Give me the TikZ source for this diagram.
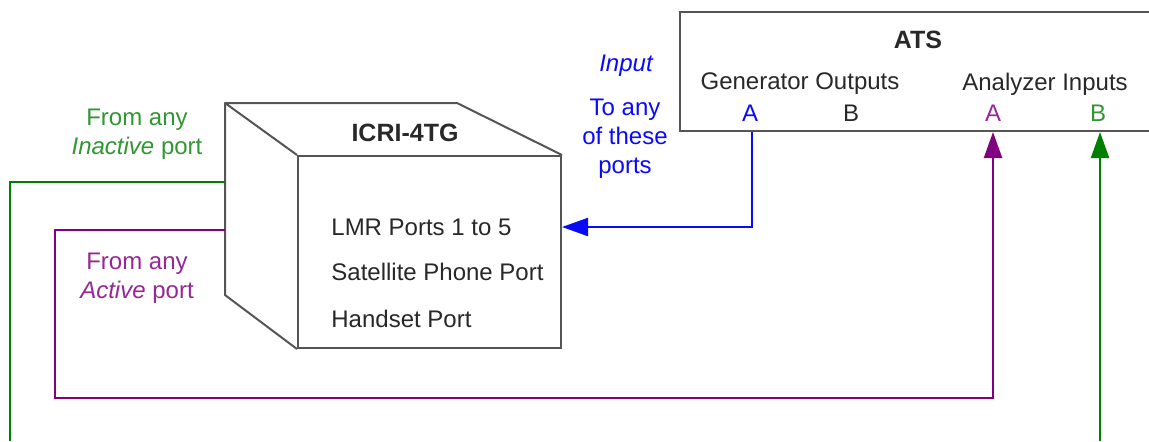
\documentclass[tikz,border=0pt]{standalone}
\usepackage{fontspec}
\setmainfont{Liberation Sans}
\usetikzlibrary{arrows.meta,positioning}
\definecolor{boxgrey}{RGB}{85,85,85}
\definecolor{inkgrey}{RGB}{40,40,40}
\definecolor{portblue}{RGB}{10,10,250}
\definecolor{portpurple}{RGB}{128,0,128}
\definecolor{txtpurple}{RGB}{150,40,150}
\definecolor{portgreen}{RGB}{0,128,0}
\definecolor{txtgreen}{RGB}{50,150,50}

\begin{document}
\begin{tikzpicture}[x=0.5pt,y=-0.5pt,
  every node/.style={font=\fontsize{12}{14.5}\selectfont,inner sep=0pt,text=inkgrey},
  unit/.style={draw=boxgrey,line width=1pt,fill=white},
  edgeline/.style={draw=boxgrey,line width=1pt,line join=round},
  title/.style={font=\fontsize{12.5}{15}\selectfont\bfseries},
  wire/.style={line width=1.1pt},
  ar/.style={wire,-{Triangle[length=13pt,width=9pt]}}]

\useasboundingbox (0,0) rectangle (1149,441);

% tester
\node[unit,minimum width=240pt,minimum height=59.5pt] (ats) at (920,71.5) {};
\node[title] (atst) at (918,40) {ATS};
\node (gen) at (800,84) {Generator Outputs};
\node (ana) at (1045,84) {Analyzer Inputs};
\node[text=portblue]  (genA) at (750,113) {A};
\node                 (genB) at (851,113) {B};
\node[text=txtpurple] (anaA) at (993,113) {A};
\node[text=txtgreen]  (anaB) at (1098,113) {B};

% the box, front face plus top and side
\node[unit,minimum width=131.5pt,minimum height=96pt] (front) at (429.5,252) {};
\coordinate (btl) at (225,103);
\coordinate (btr) at (457,103);
\coordinate (bbl) at (225,295);
\draw[edgeline] (front.north west) -- (btl) -- (btr) -- (front.north east);
\draw[edgeline] (btl) -- (bbl) -- (front.south west);
\node[title] (icri) at (405,133) {ICRI-4TG};
\node[anchor=west] (lmr) at (331,227) {LMR Ports 1 to 5};
\node[anchor=west] (sat) at (331,272) {Satellite Phone Port};
\node[anchor=west] (hand) at (331,319) {Handset Port};

% labels
\node[text=portblue,font=\fontsize{12}{14.5}\selectfont\itshape] (inp) at (626,66) {Input};
\node[text=portblue,align=center] (toany) at (625,139) {To any\\of these\\ports};
\node[text=txtgreen,align=center] (inact) at (137,134) {From any\\\textit{Inactive} port};
\node[text=txtpurple,align=center] (act) at (137,278) {From any\\\textit{Active} port};

% connectors
\coordinate (gout) at (225,182);
\coordinate (pout) at (225,230);
\coordinate (pturn) at (55,398);
\coordinate (gdown) at (10,441);
\coordinate (gup) at (1100,441);

\draw[ar,portblue] (752,0 |- ats.south) |- (front.east |- lmr);
\draw[ar,portpurple] (pout) -| (pturn) -| (anaA |- ats.south);
\draw[wire,portgreen] (gout) -| (gdown);
\draw[ar,portgreen] (gup) -- (gup |- ats.south);
\end{tikzpicture}
\end{document}
